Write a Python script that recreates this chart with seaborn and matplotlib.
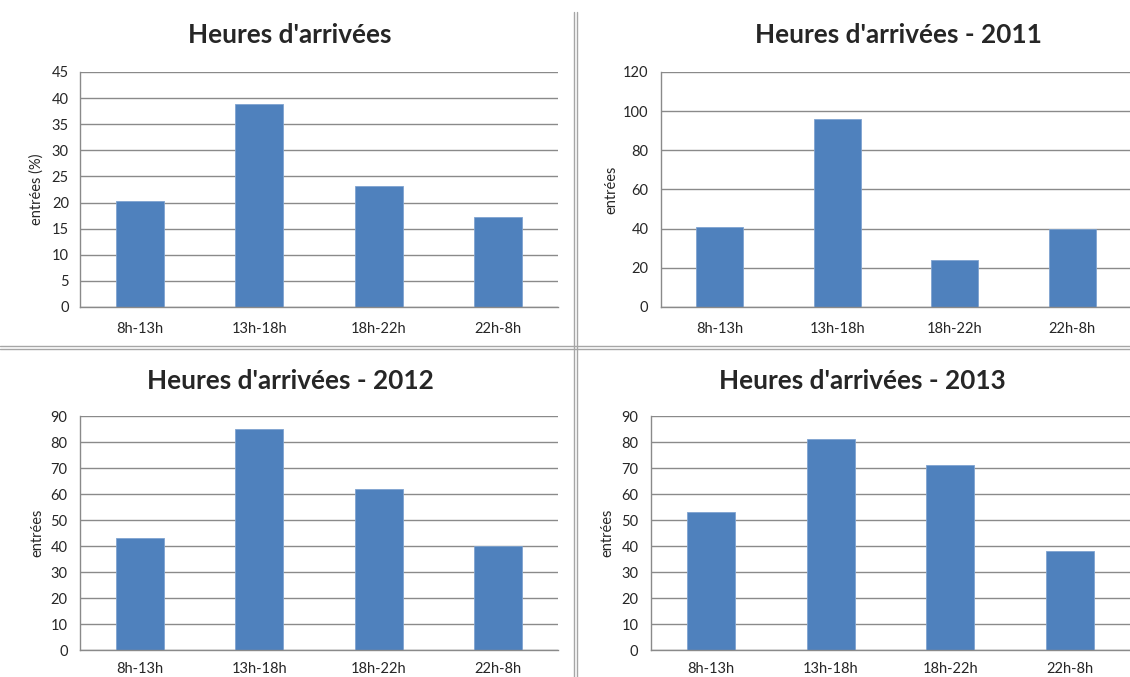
import matplotlib
matplotlib.use("Agg")
import matplotlib.pyplot as plt
from matplotlib.lines import Line2D
from matplotlib.ticker import FixedLocator
import seaborn as sns

# --- Data ---
creneaux = ["8h-13h", "13h-18h", "18h-22h", "22h-8h"]
pct_total = [20.3, 38.8, 23.2, 17.3]
entrees_2011 = [41, 96, 24, 40]
entrees_2012 = [43, 85, 62, 40]
entrees_2013 = [53, 81, 71, 38]

titles = ["Heures d'arrivées", "Heures d'arrivées - 2011",
          "Heures d'arrivées - 2012", "Heures d'arrivées - 2013"]
ylabels = ["entrées (%)", "entrées", "entrées", "entrées"]
ymax = [45, 120, 90, 90]
ystep = [5, 20, 10, 10]

sns.set_style("white")
plt.rcParams["font.family"] = ["Lato", "DejaVu Sans"]

W, H = 1130, 677
BLUE = "#4F81BD"
GRID = "#8a8a8a"

fig = plt.figure(figsize=(W / 100, H / 100), dpi=100)


def px_axes(left, right, top, bottom):
    return fig.add_axes([left / W, 1 - bottom / H, (right - left) / W, (bottom - top) / H])


# axes boxes in pixels (left, right, top, bottom)
boxes = [(80, 558, 72, 307), (661, 1131, 72, 307), (80, 558, 416, 650), (651, 1130, 416, 650)]
title_pos = [(290, 35), (898, 35), (290, 381), (862, 381)]
ylabel_x = [44, 618, 44, 614]
xpad = [11, 11, 8.5, 8.5]
series = [pct_total, entrees_2011, entrees_2012, entrees_2013]

for i, (box, vals) in enumerate(zip(boxes, series)):
    ax = px_axes(*box)
    sns.barplot(x=creneaux, y=vals, ax=ax, color=BLUE, width=0.4,
                edgecolor="#7fa3d0", linewidth=0.6, saturation=1)
    ax.set_ylim(0, ymax[i])
    ax.set_xlim(-0.5, 3.5)
    ax.set_yticks(range(0, ymax[i] + 1, ystep[i]))
    ax.yaxis.grid(True, color=GRID, linewidth=1.0)
    ax.set_axisbelow(True)
    for s in ["top", "right"]:
        ax.spines[s].set_visible(False)
    for s in ["left", "bottom"]:
        ax.spines[s].set_color(GRID)
        ax.spines[s].set_linewidth(1.0)
    ax.set_ylabel(ylabels[i], fontsize=10.5)
    ax.yaxis.set_label_coords((ylabel_x[i] - box[0]) / (box[1] - box[0]), 0.5)
    ax.set_xlabel("")
    ax.tick_params(axis="x", which="major", length=0, pad=xpad[i], labelsize=10.5)
    if i == 0:
        ax.tick_params(axis="y", length=0, pad=8, labelsize=10.5)
    else:
        ax.tick_params(axis="y", length=5, color=GRID, pad=4, labelsize=10.5, direction="out")
        ax.xaxis.set_minor_locator(FixedLocator([-0.5, 0.5, 1.5, 2.5, 3.5]))
        ax.tick_params(axis="x", which="minor", length=5, color=GRID, direction="out")
    fig.text(title_pos[i][0] / W, 1 - title_pos[i][1] / H, titles[i],
             ha="center", va="center", fontsize=18.8, fontweight="bold")

# --- separators between the four charts ---
for off in (0, 3):
    fig.add_artist(Line2D([(574 + off) / W] * 2, [0, 1 - 12 / H],
                          color="#a6a6a6", linewidth=1.0))
    fig.add_artist(Line2D([0, 1], [1 - (346 + off) / H] * 2,
                          color="#a6a6a6", linewidth=1.0))

plt.savefig("out.png", dpi=100)
